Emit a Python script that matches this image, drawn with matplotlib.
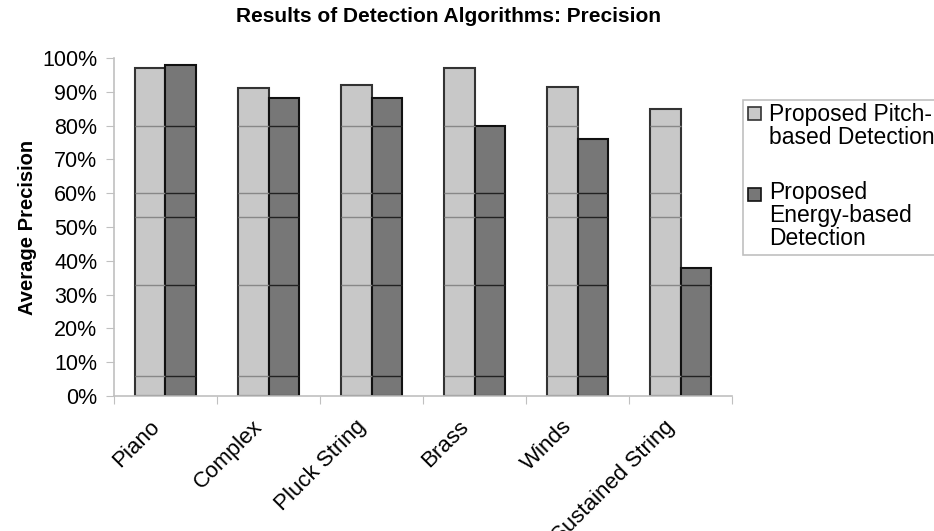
import numpy as np
import matplotlib
matplotlib.use("Agg")
import matplotlib.pyplot as plt
from matplotlib.patches import Rectangle

# =============================
# DATA
# =============================
categories = ["Piano", "Complex", "Pluck String", "Brass", "Winds", "Sustained String"]
pitch_precision = [97, 91, 92, 97, 91.5, 85]
energy_precision = [98, 88, 88, 80, 76, 38]
series_names = ["Proposed Pitch-\nbased Detection", "Proposed\nEnergy-based\nDetection"]
yticks = [0, 10, 20, 30, 40, 50, 60, 70, 80, 90, 100]
# stray rule lines that cut across the bars in the original scan
bar_rules = [6, 33, 53, 60, 80]

plt.rcParams["font.family"] = ["Liberation Sans", "DejaVu Sans"]

W, H = 934, 531
fig = plt.figure(figsize=(W / 100, H / 100), dpi=100)
ax = fig.add_axes([0.122, 0.254, 0.662, 0.637])

x = np.arange(len(categories))
w = 0.295
light = "#c8c8c8"
dark = "#777777"

b1 = ax.bar(x - w, pitch_precision, w, align="edge", color=light,
            edgecolor="#333333", linewidth=1.5, zorder=2)
b2 = ax.bar(x, energy_precision, w, align="edge", color=dark,
            edgecolor="#111111", linewidth=1.5, zorder=2)

# rule lines inside bars
for bars, vals, col in [(b1, pitch_precision, "#888888"), (b2, energy_precision, "#222222")]:
    for rect, v in zip(bars, vals):
        for lv in bar_rules:
            if lv < v:
                ax.hlines(lv, rect.get_x(), rect.get_x() + rect.get_width(),
                          colors=col, linewidth=1, zorder=3)

ax.set_xlim(-0.5, len(categories) - 0.5)
ax.set_ylim(0, 100)
ax.set_yticks(yticks)
ax.set_yticklabels([f"{t}%" for t in yticks], fontsize=15.5)

# category ticks sit between groups, labels at centers
ax.set_xticks(np.arange(len(categories) + 1) - 0.5)
ax.set_xticklabels([])
ax.tick_params(axis="x", length=6, color="#c0c0c0", direction="out")
ax.tick_params(axis="y", length=6, color="#c0c0c0", direction="out", pad=6)
for xi, name in zip(x, categories):
    ax.text(xi - 0.16, -6, name, rotation=45, ha="right", va="top",
            rotation_mode="anchor", fontsize=16)

for s in ["top", "right"]:
    ax.spines[s].set_visible(False)
for s in ["left", "bottom"]:
    ax.spines[s].set_color("#c0c0c0")
    ax.spines[s].set_linewidth(1.2)

ax.set_ylabel("Average Precision", fontsize=14.5, fontweight="bold", labelpad=4)
fig.text(0.48, 0.968, "Results of Detection Algorithms: Precision",
         ha="center", va="center", fontsize=15, fontweight="bold")

# =============================
# LEGEND (Excel style, handle on first line)
# =============================
frame = Rectangle((743 / W, 1 - 255 / H), 230 / W, 155 / H, transform=fig.transFigure,
                  facecolor="white", edgecolor="#c0c0c0", linewidth=1.2, clip_on=False)
fig.patches.append(frame)
# (label, face, edge, first-line baseline px, last-line baseline px)
entries = [(series_names[0], light, "#333333", 120, 144),
           (series_names[1], dark, "#111111", 201, 245)]
for label, fc, ec, first, last in entries:
    fig.patches.append(Rectangle((748 / W, 1 - first / H), 13 / W, 13 / H,
                                 transform=fig.transFigure, facecolor=fc,
                                 edgecolor=ec, linewidth=1.2))
    fig.text(769 / W, 1 - last / H, label, ha="left", va="baseline",
             fontsize=16.5, linespacing=1.0)

fig.savefig("out.png", dpi=100)
